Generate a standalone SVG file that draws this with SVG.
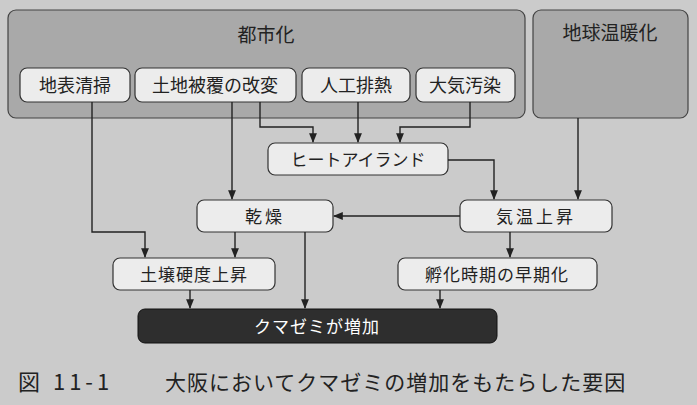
<svg xmlns="http://www.w3.org/2000/svg" width="697" height="405" viewBox="0 0 697 405">
<defs>
<marker id="ah" viewBox="0 0 10 10" refX="9" refY="5" markerWidth="7" markerHeight="7" orient="auto"><path d="M0,1 L10,5 L0,9 z" fill="#222"/></marker>
</defs>
<style>
text{font-family:"Noto Sans CJK JP","Noto Sans CJK SC",sans-serif;fill:#222;text-anchor:middle}
.grp{fill:#a9a9a9;stroke:#444;stroke-width:1.2}
.box{fill:#ececec;stroke:#333;stroke-width:1.2}
.c{fill:none;stroke:#222;stroke-width:1.4;marker-end:url(#ah)}
</style>
<rect width="697" height="405" fill="#cbcbcb"/>
<g id="toshika"><rect class="grp" x="8" y="10" width="517" height="108" rx="8"/><text x="266" y="42" font-size="19">都市化</text></g>
<g id="chikyu"><rect class="grp" x="533" y="10" width="155" height="108" rx="8"/><text x="610" y="40" font-size="19">地球温暖化</text></g>
<g id="chihyo"><rect class="box" x="20" y="68" width="110" height="34" rx="7"/><text x="75" y="92" font-size="18">地表清掃</text></g>
<g id="tochi"><rect class="box" x="135" y="68" width="161" height="34" rx="7"/><text x="215" y="92" font-size="18">土地被覆の改変</text></g>
<g id="jinko"><rect class="box" x="302" y="68" width="108" height="34" rx="7"/><text x="356" y="92" font-size="18">人工排熱</text></g>
<g id="taiki"><rect class="box" x="416" y="68" width="99" height="34" rx="7"/><text x="465" y="92" font-size="18">大気汚染</text></g>
<g id="heat"><rect class="box" x="268" y="143" width="180" height="32" rx="7"/><text x="358" y="166" font-size="17">ヒートアイランド</text></g>
<g id="kanso"><rect class="box" x="197" y="200" width="136" height="32" rx="7"/><text x="265" y="223" font-size="17" letter-spacing="3">乾燥</text></g>
<g id="kion"><rect class="box" x="460" y="200" width="152" height="32" rx="7"/><text x="536" y="223" font-size="17" letter-spacing="3">気温上昇</text></g>
<g id="dojo"><rect class="box" x="113" y="258" width="162" height="32" rx="7"/><text x="194" y="281" font-size="17" letter-spacing="1">土壌硬度上昇</text></g>
<g id="fuka"><rect class="box" x="398" y="258" width="199" height="32" rx="7"/><text x="497" y="281" font-size="17" letter-spacing="1">孵化時期の早期化</text></g>
<g id="kumazemi"><rect x="138" y="309" width="359" height="34" rx="7" fill="#2e2e2e" stroke="#111"/><text x="317" y="333" font-size="17" letter-spacing="1" style="fill:#fff">クマゼミが増加</text></g>
<g id="connectors">
<path class="c" d="M92,102 V232 H145 V257"/>
<path class="c" d="M232,102 V199"/>
<path class="c" d="M260,102 V127 H313 V142"/>
<path class="c" d="M358,102 V142"/>
<path class="c" d="M470,102 V127 H400 V142"/>
<path class="c" d="M448,160 H494 V199"/>
<path class="c" d="M578,118 V199"/>
<path class="c" d="M460,216 H334"/>
<path class="c" d="M235,232 V257"/>
<path class="c" d="M305,232 V308"/>
<path class="c" d="M510,232 V257"/>
<path class="c" d="M190,290 V308"/>
<path class="c" d="M440,290 V308"/>
</g>
<text x="18" y="390" font-size="22" letter-spacing="4" style="text-anchor:start">図 11-1</text>
<text x="165" y="390" font-size="21" letter-spacing="1" style="text-anchor:start">大阪においてクマゼミの増加をもたらした要因</text>
</svg>
